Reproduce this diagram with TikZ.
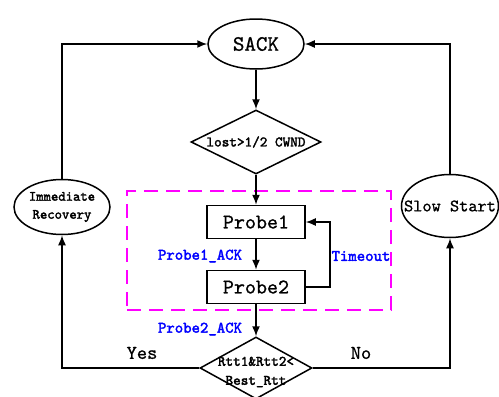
\documentclass[tikz,border=0pt]{standalone}
\usepackage{fontspec}
\newfontfamily\pmono{lmmono10-regular.otf}[FakeBold=0.8]
\newfontfamily\bmono{lmmono10-regular.otf}[FakeBold=2.2]
\usetikzlibrary{shapes.geometric,arrows.meta}
\definecolor{mag}{RGB}{255,0,255}
\definecolor{lblue}{RGB}{0,0,255}
\begin{document}
\begin{tikzpicture}[x=1pt,y=-1pt,
  line width=1.5pt,
  arr/.style={-{Latex[length=10pt,width=8pt]}},
  ell/.style={draw,ellipse,inner sep=0pt},
  dia/.style={draw,diamond,inner sep=0pt},
  box/.style={draw,rectangle,minimum width=98pt,minimum height=33pt,inner sep=0pt,font=\pmono\fontsize{21}{24}\selectfont},
  lbl/.style={font=\bmono\fontsize{14.5}{19}\selectfont,align=center,inner sep=0pt},
  blu/.style={text=lblue,font=\bmono\fontsize{16}{18}\selectfont,inner sep=0pt},
  yn/.style={font=\pmono\fontsize{19.5}{22}\selectfont,inner sep=0pt}]
\useasboundingbox (0,0) rectangle (499,397);
\node[draw=mag,dash pattern=on 14pt off 8pt,minimum width=264pt,minimum height=119pt,inner sep=0pt] (grp) at (259,250.5) {};
\node[ell,minimum width=96pt,minimum height=50pt,font=\pmono\fontsize{22}{24}\selectfont] (sack) at (256,44) {SACK};
\node[dia,minimum width=130pt,minimum height=64pt] (d1) at (256,142) {};
\node[lbl] (d1t) at (256,142) {lost>1/2 CWND};
\node[box] (p1) at (256,222) {Probe1};
\node[box] (p2) at (256,287) {Probe2};
\node[dia,minimum width=112pt,minimum height=62pt] (d2) at (256,368) {};
\node[lbl] (d2t) at (256,372) {Rtt1\&Rtt2<\\Best\_Rtt};
\node[ell,minimum width=96pt,minimum height=55pt] (ir) at (62,207) {};
\node[lbl,font=\bmono\fontsize{14}{18}\selectfont] (irt) at (62,207) {Immediate\\Recovery};
\node[ell,minimum width=97pt,minimum height=63pt] (ss) at (450,206) {};
\node[font=\pmono\fontsize{17.5}{20}\selectfont,inner sep=0pt] (sst) at (450,206) {Slow Start};
\draw[arr] (sack) -- (d1);
\draw[arr] (d1) -- (p1);
\draw[arr] (p1) -- (p2);
\draw[arr] (p2) -- (d2);
\draw[arr] (p2.east) -- ++(24,0) |- (p1.east);
\draw[arr] (d2.west) -| (ir.south);
\draw[arr] (d2.east) -| (ss.south);
\draw[arr] (ir.north) |- (sack.west);
\draw[arr] (ss.north) |- (sack.east);
\node[blu] (l1) at (200,256) {Probe1\_ACK};
\node[blu] (l2) at (361,256) {Timeout};
\node[blu] (l3) at (200,329) {Probe2\_ACK};
\node[yn] (yes) at (142,353) {Yes};
\node[yn] (no) at (361,353) {No};
\end{tikzpicture}
\end{document}
